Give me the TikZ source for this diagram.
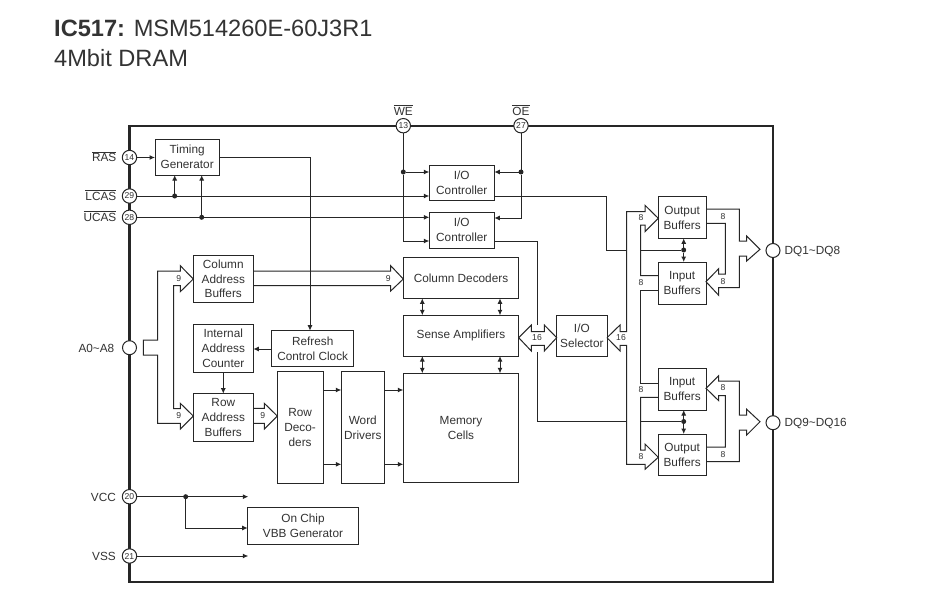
\documentclass[tikz,border=0pt]{standalone}
\usepackage{fontspec}
\setmainfont{Liberation Sans}
\usetikzlibrary{arrows.meta,calc}
\definecolor{ink}{HTML}{262626}
\definecolor{txt}{HTML}{333333}
\newcommand{\bx}[6]{%
  \pgfmathsetmacro{\cxx}{(#2+#4)/2}\pgfmathsetmacro{\cyy}{(#3+#5)/2}%
  \pgfmathsetmacro{\wxx}{abs(#4-#2)}\pgfmathsetmacro{\hyy}{abs(#5-#3)}%
  \node[blockbox,minimum width=\wxx pt,minimum height=\hyy pt] (#1) at (\cxx,\cyy) {#6};}
\newcommand{\ovl}[1]{$\overline{\mbox{#1}}$}
\tikzset{
  blockbox/.style={draw=ink,line width=1pt,inner sep=0pt,outer sep=0pt,align=center,text=txt,
    font=\fontsize{11.8}{14.9}\selectfont},
  pinnum/.style={draw=ink,fill=white,circle,line width=1pt,minimum size=14.4pt,inner sep=0pt,outer sep=0pt,text=txt,
    font=\fontsize{8.6}{9}\selectfont},
  pinopen/.style={draw=ink,fill=white,circle,line width=1pt,minimum size=14pt,inner sep=0pt,outer sep=0pt},
  lbl/.style={text=txt,inner sep=0pt,font=\fontsize{11.8}{14}\selectfont},
  tiny/.style={text=txt,inner sep=0pt,font=\fontsize{8.6}{9}\selectfont},
  title/.style={text=txt,inner sep=0pt,anchor=base west,font=\fontsize{23.6}{26}\selectfont},
  wire/.style={draw=ink,line width=1pt},
  awire/.style={wire,-{Latex[length=5.5pt,width=5pt]}},
  bwire/.style={wire,{Latex[length=5.5pt,width=5pt]}-{Latex[length=5.5pt,width=5pt]}},
  bus/.style={wire,line join=miter},
  jdot/.style={circle,fill=ink,minimum size=5pt,inner sep=0pt,outer sep=0pt},
  chipframe/.style={draw=ink,line width=2.2pt,inner sep=0pt},
}
\begin{document}
\begin{tikzpicture}[x=1pt,y=-1pt]
\useasboundingbox (0,0) rectangle (938,605);
\fill[white] (0,0) rectangle (938,605);
% titles
\node[title] (t1) at (54,36.7) {\textbf{IC517:} MSM514260E-60J3R1};
\node[title] (t2) at (54,66) {4Mbit DRAM};
% chip frame
\bx{chip}{129.5}{125.7}{773}{581.7}{}
\draw[chipframe] (chip.north west) rectangle (chip.south east);
% pins
\node[pinnum] (pRAS) at (129.5,157.5) {14};
\node[pinnum] (pLCAS) at (129.5,196) {29};
\node[pinnum] (pUCAS) at (129.5,217.3) {28};
\node[pinnum] (pVCC) at (129.5,496.7) {20};
\node[pinnum] (pVSS) at (129.5,556) {21};
\node[pinnum] (pWE) at (403.3,125.7) {13};
\node[pinnum] (pOE) at (521,125.7) {27};
\node[pinopen] (pA) at (129.5,347.7) {};
\node[pinopen] (pDQa) at (773,250.5) {};
\node[pinopen] (pDQb) at (773,422.7) {};
% pin labels
\node[lbl,anchor=base east] (lRAS) at (116.5,161.5) {\ovl{RAS}};
\node[lbl,anchor=base east] (lLCAS) at (116.5,200) {\ovl{LCAS}};
\node[lbl,anchor=base east] (lUCAS) at (116.5,221.3) {\ovl{UCAS}};
\node[lbl,anchor=base east] (lVCC) at (116,501) {VCC};
\node[lbl,anchor=base east] (lVSS) at (116,560.5) {VSS};
\node[lbl,anchor=base east] (lA) at (114.5,352) {A0\char`\~A8};
\node[lbl,anchor=base] (lWE) at (403.3,115) {\ovl{WE}};
\node[lbl,anchor=base] (lOE) at (521,115) {\ovl{OE}};
\node[lbl,anchor=base west] (lDQa) at (784.5,254.7) {DQ1\char`\~DQ8};
\node[lbl,anchor=base west] (lDQb) at (784.5,426.7) {DQ9\char`\~DQ16};
% blocks
\bx{tg}{155}{139.3}{219.3}{175}{Timing\\Generator}
\bx{cab}{193.3}{255}{253.3}{302.7}{Column\\Address\\Buffers}
\bx{iac}{193.3}{324.7}{253.3}{372.3}{Internal\\Address\\Counter}
\bx{rcc}{271.7}{330.7}{353.7}{366.3}{Refresh\\Control Clock}
\bx{rab}{193.3}{393.7}{253.3}{441.3}{Row\\Address\\Buffers}
\bx{rd}{277.3}{371}{323}{483.7}{Row\\Deco-\\ders}
\bx{wd}{341.3}{371}{384.3}{483.7}{Word\\Drivers}
\bx{mc}{403.3}{373.3}{518.7}{482}{Memory\\Cells}
\bx{sa}{403.3}{315.3}{518.7}{356}{Sense Amplifiers}
\bx{cd}{403.3}{257.7}{518.7}{298.3}{Column Decoders}
\bx{ios}{556.7}{315.3}{607}{356}{I/O\\Selector}
\bx{ioa}{429.3}{165}{494.3}{200.7}{I/O\\Controller}
\bx{iob}{429.3}{212.3}{494.3}{248}{I/O\\Controller}
\bx{oba}{658.3}{196.7}{706}{238.3}{Output\\Buffers}
\bx{iba}{658.3}{262}{706}{304}{Input\\Buffers}
\bx{ibb}{658.3}{368.3}{706}{410}{Input\\Buffers}
\bx{obb}{658.3}{434}{706}{475.3}{Output\\Buffers}
\bx{vbb}{247.7}{507.7}{358.3}{544.7}{On Chip\\VBB Generator}
% junction dots
\node[jdot] (dL) at (174.7,196) {};
\node[jdot] (dU) at (201.7,217.3) {};
\node[jdot] (dWE) at (403.3,172) {};
\node[jdot] (dOE) at (521,172) {};
\node[jdot] (dV) at (185.7,496.7) {};
\node[jdot] (dA) at (683.7,250) {};
\node[jdot] (dB) at (683.7,421.5) {};
% free ends
\coordinate (eV) at (248.3,496.7);
\coordinate (eS) at (248.3,556);
\coordinate (busTa) at (537,325);
\coordinate (busTb) at (537,352);
% control wires
\draw[awire] (pRAS) -- (tg.west |- pRAS);
\draw[awire] (dL) -- (dL |- tg.south);
\draw[awire] (dU) -- (dU |- tg.south);
\draw[awire] (pLCAS) -- (ioa.west |- pLCAS);
\draw[awire] (pUCAS) -- (iob.west |- pUCAS);
\draw[awire] (tg.east |- pRAS) -| (310,0 |- rcc.north);
\draw[awire] (rcc.west |- 0,349) -- (iac.east |- 0,349);
\draw[awire] (iac.south) -- (iac.south |- rab.north);
\draw[wire] (pWE) -- (dWE);
\draw[awire] (dWE) -- (ioa.west |- dWE);
\draw[awire] (dWE) |- (iob.west |- 0,241);
\draw[wire] (pOE) -- (dOE);
\draw[awire] (dOE) -- (ioa.east |- dOE);
\draw[awire] (dOE) |- (iob.east |- 0,218);
\draw[wire] (ioa.east |- pLCAS) -| (606,250) -- (626.7,250);
\draw[wire] (iob.east |- 0,241) -| (busTa);
\draw[wire] (busTb) |- (626.7,421.5);
\draw[wire] (640.7,250) -- (dA);
\draw[wire] (640.7,421.5) -- (dB);
\draw[awire] (dA) -- (dA |- oba.south);
\draw[awire] (dA) -- (dA |- iba.north);
\draw[awire] (dB) -- (dB |- ibb.south);
\draw[awire] (dB) -- (dB |- obb.north);
% decoders to drivers to cells
\draw[awire] (rd.east |- 0,390) -- (wd.west |- 0,390);
\draw[awire] (rd.east |- 0,464.3) -- (wd.west |- 0,464.3);
\draw[awire] (wd.east |- 0,390) -- (mc.west |- 0,390);
\draw[awire] (wd.east |- 0,464.3) -- (mc.west |- 0,464.3);
\draw[bwire] (cd.south -| 422.3,0) -- (sa.north -| 422.3,0);
\draw[bwire] (cd.south -| 500,0) -- (sa.north -| 500,0);
\draw[bwire] (sa.south -| 422.3,0) -- (mc.north -| 422.3,0);
\draw[bwire] (sa.south -| 500,0) -- (mc.north -| 500,0);
% power
\draw[awire] (pVCC) -- (eV);
\draw[awire] (dV) |- (vbb.west |- 0,528);
\draw[awire] (pVSS) -- (eS);
% address bus
\draw[bus] (143.3,340) -- (157.7,340) -- (157.7,271) -- (180.3,271) -- (180.3,265.7) -- (cab.west |- 0,279)
  -- (180.3,291.7) -- (180.3,285.7) -- (173.7,285.7) -- (173.7,408.7) -- (180.3,408.7) -- (180.3,403.3)
  -- (rab.west |- 0,416) -- (180.3,429) -- (180.3,423.3) -- (157.7,423.3) -- (157.7,355) -- (143.3,355) -- cycle;
% column address bus
\draw[bus] (cab.east |- 0,271) -- (390.7,271) -- (390.7,265.7) -- (cd.west |- 0,279) -- (390.7,291) -- (390.7,285.7) -- (cab.east |- 0,285.7);
% row address bus
\draw[bus] (rab.east |- 0,408.3) -- (264.3,408.3) -- (264.3,403.3) -- (rd.west |- 0,416) -- (264.3,429) -- (264.3,423.3) -- (rab.east |- 0,423.3);
% 16-bit bus between amplifiers and selector
\draw[bus] (sa.east |- 0,337.7) -- (531.3,325) -- (531.3,331.7) -- (544.3,331.7) -- (544.3,325) -- (ios.west |- 0,337.7)
  -- (544.3,351) -- (544.3,345.3) -- (531.3,345.3) -- (531.3,351) -- cycle;
% 16-bit bus: selector to buffer groups (upper)
\draw[bus] (ios.east |- 0,337.7) -- (620,325) -- (620,331.7) -- (626.7,331.7) -- (626.7,211.7) -- (645,211.7) -- (645,205.3)
  -- (oba.west |- 0,218.3) -- (645,231.7) -- (645,225) -- (640.7,225) -- (640.7,275.7) -- (iba.west |- 0,275.7);
% lower
\draw[bus] (ios.east |- 0,337.7) -- (620,351) -- (620,345.3) -- (626.7,345.3) -- (626.7,464.3) -- (645,464.3) -- (645,469.3)
  -- (obb.west |- 0,457.3) -- (645,444) -- (645,450) -- (640.7,450) -- (640.7,397.3) -- (ibb.west |- 0,397.3);
% input buffers link
\draw[bus] (iba.west |- 0,290) -- (640.7,290) -- (640.7,383) -- (ibb.west |- 0,383);
% DQ1-8 bus
\draw[bus] (oba.east |- 0,209) -- (739.3,209) -- (739.3,241) -- (746.7,241) -- (746.7,236) -- (760,249.3) -- (746.7,261) -- (746.7,256)
  -- (739.3,256) -- (739.3,287.7) -- (718.7,287.7) -- (718.7,295.3) -- (iba.east |- 0,281.7) -- (718.7,268.7) -- (718.7,274)
  -- (725.3,274) -- (725.3,223.3) -- (oba.east |- 0,223.3);
% DQ9-16 bus
\draw[bus] (obb.east |- 0,461.7) -- (739.3,461.7) -- (739.3,430) -- (746.7,430) -- (746.7,435) -- (760,421.7) -- (746.7,409.3) -- (746.7,415)
  -- (739.3,415) -- (739.3,381) -- (718.7,381) -- (718.7,375.7) -- (ibb.east |- 0,388.3) -- (718.7,400.7) -- (718.7,395.7)
  -- (725.3,395.7) -- (725.3,447) -- (obb.east |- 0,447);
% bus widths
\node[tiny] (n1) at (178.7,279) {9};
\node[tiny] (n2) at (178.7,415.7) {9};
\node[tiny] (n3) at (388.3,279) {9};
\node[tiny] (n4) at (262.7,415.7) {9};
\node[tiny] (n5) at (537,338) {16};
\node[tiny] (n6) at (621,338) {16};
\node[tiny] (n7) at (641,217.7) {8};
\node[tiny] (n8) at (641,282.7) {8};
\node[tiny] (n9) at (641,390) {8};
\node[tiny] (n10) at (641,456.7) {8};
\node[tiny] (n11) at (723,217) {8};
\node[tiny] (n12) at (723,282) {8};
\node[tiny] (n13) at (723,388) {8};
\node[tiny] (n14) at (723,455) {8};
\end{tikzpicture}
\end{document}
